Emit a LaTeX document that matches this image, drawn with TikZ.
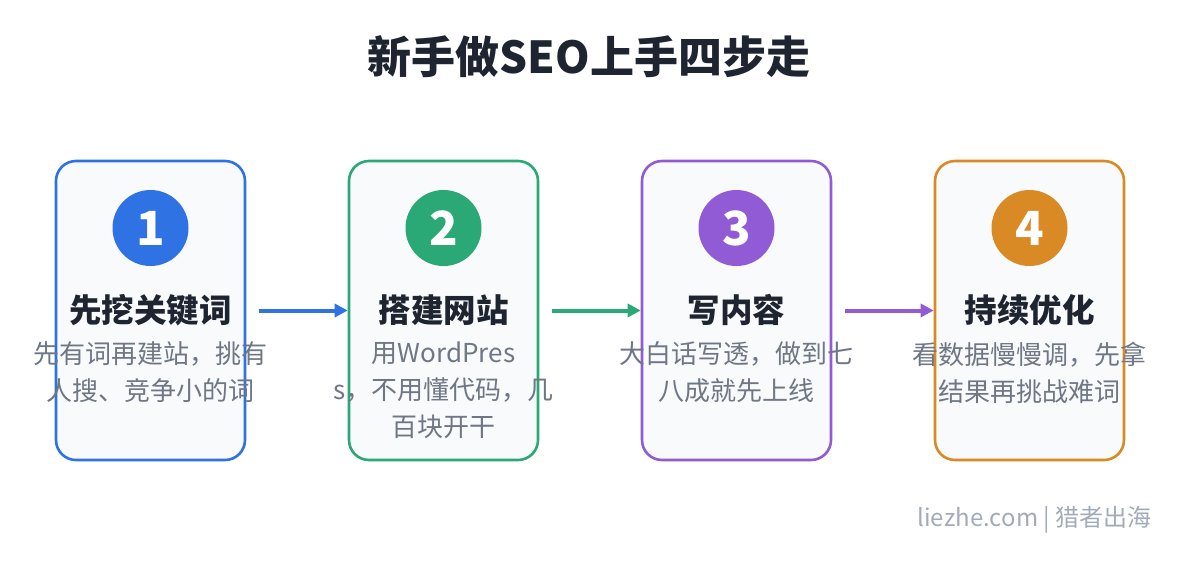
\documentclass[tikz,border=0pt]{standalone}
\usepackage{fontspec}
\setmainfont{Noto Sans CJK SC}
\usepackage{tikz}
\usetikzlibrary{arrows.meta}
\definecolor{stepblue}{HTML}{2F72E4}
\definecolor{stepgreen}{HTML}{2AA876}
\definecolor{steppurple}{HTML}{915BD6}
\definecolor{steporange}{HTML}{D98A24}
\definecolor{cardbg}{HTML}{F8FAFC}
\definecolor{ink}{HTML}{1E2430}
\definecolor{muted}{HTML}{6F7784}
\definecolor{mark}{HTML}{A3ABB8}

\begin{document}
\begin{tikzpicture}[x=1pt, y=-1pt,
    card/.style={draw=#1, line width=2.6pt, fill=cardbg, rounded corners=20pt,
        minimum width=189pt, minimum height=299pt, inner sep=0pt},
    badge/.style={circle, fill=#1, minimum size=76pt, inner sep=0pt, text=white,
        font=\fontsize{47}{47}\selectfont\bfseries},
    heading/.style={text=ink, font=\fontsize{32.5}{32.5}\selectfont\bfseries},
    blurb/.style={text=muted, align=center, anchor=north, inner sep=0pt,
        font=\fontsize{26}{37}\selectfont},
    flow/.style={draw=#1, line width=4pt, -{Triangle[length=13pt,width=13pt]}}]
    \useasboundingbox[fill=white] (0,0) rectangle (1180,560);

    \node[text=ink, font=\fontsize{44}{44}\selectfont\bfseries] (title) at (589,57) {新手做SEO上手四步走};

    \foreach \i/\x/\col/\name/\desc in {
        1/150.5/stepblue/先挖关键词/{先有词再建站，挑有\\人搜、竞争小的词},
        2/443.5/stepgreen/搭建网站/{用WordPres\\s，不用懂代码，几\\百块开干},
        3/736.5/steppurple/写内容/{大白话写透，做到七\\八成就先上线},
        4/1029.5/steporange/持续优化/{看数据慢慢调，先拿\\结果再挑战难词}} {
        \node[card=\col] (b\i) at (\x,310.5) {};
        \node[badge=\col] (n\i) at (\x,228) {\i};
        \node[heading] (t\i) at (\x,310) {\name};
        \node[blurb] (d\i) at (\x,341.5) {\desc};
    }

    \draw[flow=stepblue] ([xshift=13pt]b1.east) -- (b2.west);
    \draw[flow=stepgreen] ([xshift=13pt]b2.east) -- (b3.west);
    \draw[flow=steppurple] ([xshift=13pt]b3.east) -- (b4.west);

    \node[anchor=east, text=mark, font=\fontsize{24}{24}\selectfont] (wm) at (1155,520) {liezhe.com | 猎者出海};
\end{tikzpicture}
\end{document}
